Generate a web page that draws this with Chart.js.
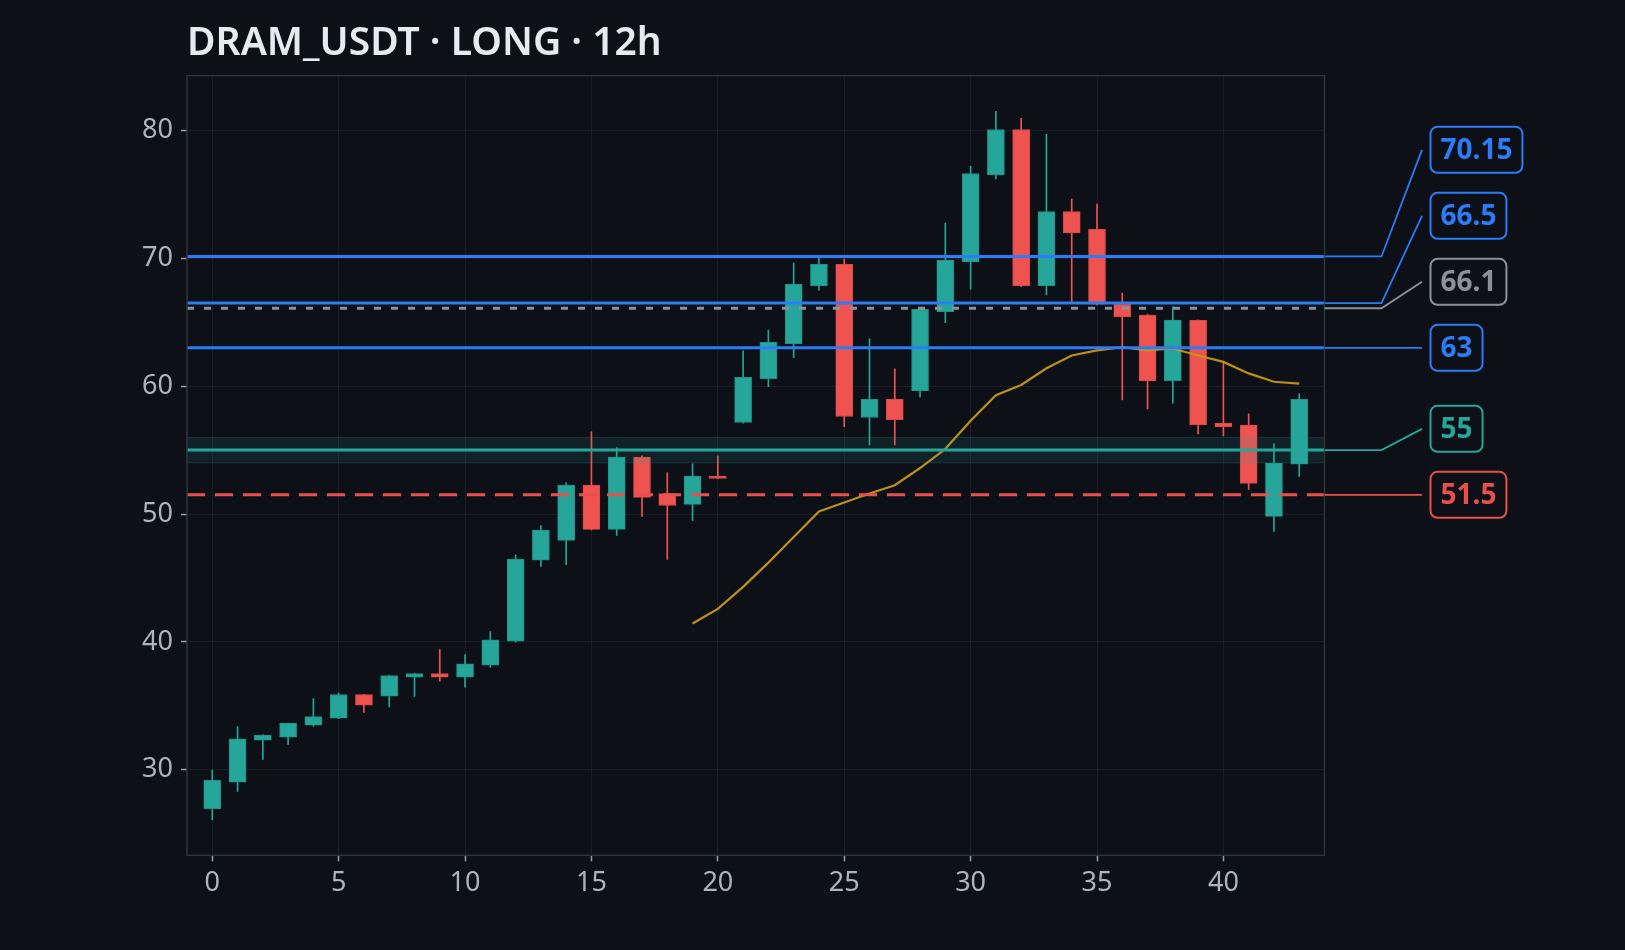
<!DOCTYPE html>
<html><head><meta charset="utf-8">
<script src="https://cdn.jsdelivr.net/npm/chart.js@4.4.1/dist/chart.umd.min.js"></script>
<style>html,body{margin:0;padding:0;background:#0d1017;}#wrap{width:1625px;height:950px;}</style>
</head><body><div id="wrap"><canvas id="c" width="1625" height="950"></canvas></div>
<script>
const chartTitle = 'DRAM_USDT · LONG · 12h';
const candleIndex = [0,1,2,3,4,5,6,7,8,9,10,11,12,13,14,15,16,17,18,19,20,21,22,23,24,25,26,27,28,29,30,31,32,33,34,35,36,37,38,39,40,41,42,43];
const opens  = [26.95,29.03,32.31,32.55,33.48,34.03,35.88,35.75,37.23,37.52,37.23,38.17,40.05,46.38,47.94,52.27,48.80,54.45,51.60,50.75,52.97,57.16,60.59,63.33,67.86,69.53,57.55,58.98,59.66,65.83,69.73,76.53,80.08,67.86,73.67,72.27,66.41,65.55,60.44,65.16,57.11,56.95,49.81,53.90];
const highs  = [29.97,33.38,32.75,33.65,35.57,36.00,35.90,37.40,37.55,39.40,39.00,40.80,46.80,49.10,52.45,56.43,55.20,54.55,53.23,53.93,54.55,62.76,64.40,69.63,70.13,69.95,63.70,61.35,66.10,72.76,77.21,81.51,80.96,79.71,74.63,74.24,67.29,65.65,66.20,65.20,61.84,57.84,55.49,59.40];
const lows   = [26.06,28.30,30.80,31.98,33.40,33.98,34.48,34.90,35.73,36.92,36.45,38.00,39.97,45.90,46.04,48.75,48.33,49.81,46.45,49.50,52.75,57.10,59.97,62.23,67.52,56.84,55.41,55.41,59.16,64.97,67.60,76.22,67.78,67.16,66.64,66.35,58.93,58.23,58.67,56.27,56.12,51.92,48.64,52.94];
const closes = [29.16,32.42,32.68,33.62,34.16,35.88,35.05,37.37,37.52,37.23,38.28,40.16,46.48,48.75,52.27,48.80,54.45,51.30,50.67,52.97,52.78,60.70,63.44,67.97,69.53,57.63,58.98,57.39,66.02,69.84,76.64,80.08,67.86,73.67,72.00,66.41,65.44,60.44,65.18,57.00,56.84,52.39,53.98,58.98];
const maIndex  = [19,20,21,22,23,24,25,26,27,28,29,30,31,32,33,34,35,36,37,38,39,40,41,42,43];
const maValues = [41.43,42.58,44.3,46.2,48.2,50.2,50.9,51.6,52.25,53.6,55.1,57.3,59.3,60.1,61.4,62.4,62.8,63.05,62.8,62.95,62.4,61.9,61.0,60.35,60.2];
const xTicks = [0,5,10,15,20,25,30,35,40];
const yTicks = [30,40,50,60,70,80];
const levelValues = [70.15, 66.5, 66.1, 63, 55, 51.5];
const levelLabels = ['70.15','66.5','66.1','63','55','51.5'];
const levelKinds  = ['target','target','entry','target','support','stop'];
const zoneLow = 54, zoneHigh = 56;

const UP = '#26a69a', DOWN = '#ef5350';
const STY = {
  target:  {color:'#2b7cf6', dash:[], width:3},
  entry:   {color:'#8d929a', dash:[7,10], width:3},
  support: {color:'#26a69a', dash:[], width:3},
  stop:    {color:'#e8504d', dash:[18,10], width:3}
};
const FONT = "'Noto Sans', 'Open Sans', sans-serif";

const isUp = i => closes[i] >= opens[i];
const colorFor = c => (c.dataIndex !== undefined && !isUp(c.dataIndex)) ? DOWN : UP;
const borderFor = c => (c.dataIndex !== undefined && !isUp(c.dataIndex)) ? '#d9494a' : '#1f9488';

const overlay = {
  id: 'overlay',
  beforeDraw(chart) {
    const {ctx, chartArea: a} = chart;
    ctx.save();
    ctx.fillStyle = '#0d1017';
    ctx.fillRect(0, 0, chart.width, chart.height);
    ctx.fillStyle = '#e6ebf3';
    ctx.font = `600 39px ${FONT}`;
    ctx.textBaseline = 'alphabetic';
    ctx.textAlign = 'left';
    ctx.fillText(chartTitle, a.left, 55);
    ctx.restore();
  },
  afterDatasetsDraw(chart) {
    const {ctx, chartArea: a, scales: {y}} = chart;
    ctx.save();
    const zt = y.getPixelForValue(zoneHigh), zb = y.getPixelForValue(zoneLow);
    ctx.fillStyle = 'rgba(38,166,154,0.13)';
    ctx.fillRect(a.left, zt, a.right - a.left, zb - zt);
    ctx.strokeStyle = 'rgba(38,166,154,0.22)';
    ctx.lineWidth = 1;
    ctx.strokeRect(a.left, zt, a.right - a.left, zb - zt);
    levelValues.forEach((v, i) => {
      const s = STY[levelKinds[i]];
      const py = y.getPixelForValue(v);
      ctx.beginPath();
      ctx.setLineDash(s.dash);
      ctx.strokeStyle = s.color;
      ctx.lineWidth = s.width;
      ctx.moveTo(a.left, py); ctx.lineTo(a.right, py);
      ctx.stroke();
    });
    ctx.setLineDash([]);
    ctx.strokeStyle = '#2e333b';
    ctx.lineWidth = 1.5;
    ctx.strokeRect(a.left, a.top, a.right - a.left, a.bottom - a.top);
    const GAP = 66;
    const items = levelValues.map((v, i) => ({i, py: y.getPixelForValue(v)}));
    items.sort((p, q) => q.py - p.py);
    let prev = null;
    items.forEach(it => {
      it.ly = prev === null ? it.py : Math.min(it.py, prev - GAP);
      prev = it.ly;
    });
    ctx.font = `700 28px ${FONT}`;
    items.forEach(it => {
      const s = STY[levelKinds[it.i]];
      const x0 = a.right, x1 = a.right + 57, x2 = a.right + 97.5;
      ctx.beginPath();
      ctx.strokeStyle = s.color;
      ctx.lineWidth = 1.8;
      ctx.moveTo(x0, it.py); ctx.lineTo(x1, it.py); ctx.lineTo(x2, it.ly);
      ctx.stroke();
      const txt = levelLabels[it.i];
      const tw = ctx.measureText(txt).width;
      const bx = a.right + 106, bh = 46, bw = tw + 20, by = it.ly - bh / 2;
      ctx.beginPath();
      ctx.roundRect(bx, by, bw, bh, 7);
      ctx.fillStyle = '#0d1017';
      ctx.fill();
      ctx.lineWidth = 2;
      ctx.stroke();
      ctx.fillStyle = s.color;
      ctx.textBaseline = 'middle';
      ctx.textAlign = 'left';
      ctx.fillText(txt, bx + 10, it.ly + 1);
    });
    ctx.restore();
  }
};

new Chart(document.getElementById('c'), {
  type: 'bar',
  data: {
    datasets: [
      {
        type: 'line', label: 'MA', order: 0,
        data: maIndex.map((x, k) => ({x, y: maValues[k]})),
        borderColor: 'rgba(196,152,22,0.95)', borderWidth: 2.2, pointRadius: 0, tension: 0, fill: false
      },
      {
        label: 'body', order: 1,
        data: candleIndex.map(i => ({x: i, y: [opens[i], closes[i]]})),
        backgroundColor: colorFor, borderColor: borderFor, borderWidth: 1,
        borderSkipped: false, barThickness: 17, grouped: false, minBarLength: 2
      },
      {
        label: 'wick', order: 2,
        data: candleIndex.map(i => ({x: i, y: [lows[i], highs[i]]})),
        backgroundColor: colorFor, borderWidth: 0, barThickness: 1, grouped: false
      }
    ]
  },
  options: {
    responsive: false, animation: false, devicePixelRatio: 1,
    layout: {padding: {left: 0, right: 300.5, top: 75.6, bottom: 0}},
    plugins: {legend: {display: false}, tooltip: {enabled: false}, title: {display: false}},
    scales: {
      x: {
        type: 'linear', min: -1, max: 44, offset: false,
        afterBuildTicks: s => { s.ticks = xTicks.map(v => ({value: v})); },
        afterFit: s => { s.height = 94.7; },
        grid: {offset: false, color: 'rgba(255,255,255,0.055)', tickColor: '#9aa0a8', tickLength: 6, tickWidth: 1.5},
        border: {display: false},
        ticks: {color: '#aeb4bd', font: {family: FONT, size: 27}, padding: 6, maxRotation: 0, autoSkip: false}
      },
      y: {
        type: 'linear', min: 23.3, max: 84.3,
        afterBuildTicks: s => { s.ticks = yTicks.map(v => ({value: v})); },
        afterFit: s => { s.width = 187; },
        grid: {color: 'rgba(255,255,255,0.055)', tickColor: '#9aa0a8', tickLength: 6, tickWidth: 1.5},
        border: {display: false},
        ticks: {color: '#aeb4bd', font: {family: FONT, size: 27}, padding: 8}
      }
    }
  },
  plugins: [overlay]
});
</script></body></html>
